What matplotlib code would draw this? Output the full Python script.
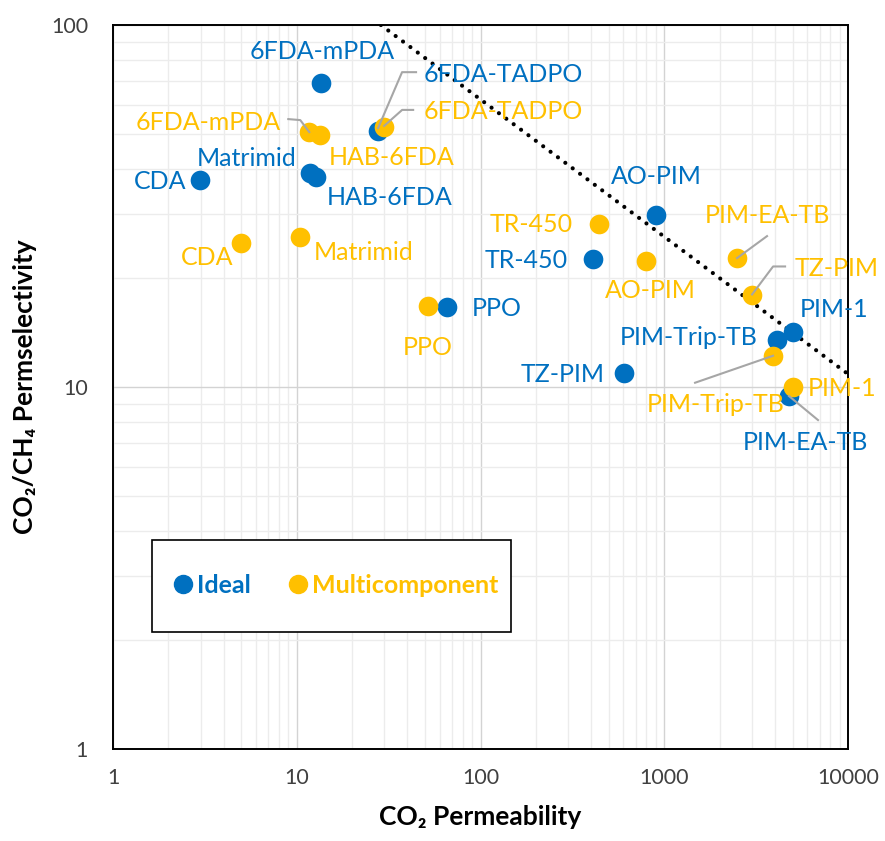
import numpy as np
import matplotlib
matplotlib.use("Agg")
import matplotlib.pyplot as plt
from matplotlib.patches import Rectangle
from matplotlib.lines import Line2D
from matplotlib.transforms import IdentityTransform

plt.rcParams['font.family'] = ['Lato', 'DejaVu Sans']

BLUE = '#0070C0'
GOLD = '#FFC000'
GREY = '#A6A6A6'

# ideal (pure gas) data
ideal_names = ['6FDA-mPDA', '6FDA-TADPO', 'CDA', 'Matrimid', 'HAB-6FDA', 'PPO',
               'TR-450', 'AO-PIM', 'TZ-PIM', 'PIM-1', 'PIM-Trip-TB', 'PIM-EA-TB']
ideal_perm = [13.5, 27.7, 2.98, 11.8, 12.7, 65.7, 409, 902, 604, 5020, 4110, 4775]
ideal_sel = [69.2, 50.9, 37.3, 39.0, 38.0, 16.6, 22.6, 29.9, 10.9, 14.2, 13.5, 9.44]

# multicomponent (mixed gas) data
mixed_names = ['6FDA-mPDA', 'HAB-6FDA', '6FDA-TADPO', 'CDA', 'Matrimid', 'PPO',
               'TR-450', 'AO-PIM', 'PIM-EA-TB', 'TZ-PIM', 'PIM-Trip-TB', 'PIM-1']
mixed_perm = [11.7, 13.4, 29.9, 4.97, 10.4, 51.8, 441, 796, 2489, 3006, 3910, 5020]
mixed_sel = [50.6, 49.7, 52.3, 25.0, 26.0, 16.7, 28.2, 22.3, 22.7, 17.9, 12.2, 10.0]

# 2008 upper bound end points
bound_perm = [28.7, 10000]
bound_sel = [100, 10.86]

# label placement: (dx, dy) in pixels from the point, alignment
ideal_lbl = [(1, 31, 'center'), (46, 57, 'left'), (-14, -1, 'right'), (-13, 15, 'right'),
             (11, -20, 'left'), (25, -1, 'left'), (-25, -2, 'right'), (0, 38, 'center'),
             (-19, -1, 'right'), (7, 22, 'left'), (-19, 2, 'right'), (16, -46, 'center')]
mixed_lbl = [(-29, 10, 'right'), (9, -23, 'left'), (39, 15, 'left'), (-8, -15, 'right'),
             (14, -16, 'left'), (0, -41, 'center'), (-26, 0, 'right'), (4, -30, 'center'),
             (-32, 43, 'left'), (43, 27, 'left'), (-57, -49, 'center'), (15, -1, 'left')]

# leader lines: series, index, vertex offsets in pixels
leaders = [
    ('ideal', 1, [(0, 3), (24, 59), (38, 59)]),
    ('mixed', 2, [(0, 1), (18, 17), (29, 17)]),
    ('mixed', 0, [(0, 0), (-9, 12), (-21, 13)]),
    ('mixed', 8, [(0, 0), (30, 22)]),
    ('mixed', 9, [(0, 1), (21, 29), (33, 29)]),
    ('mixed', 10, [(0, 0), (-78, -27)]),
    ('ideal', 11, [(0, 0), (29, -24)]),
]

fig = plt.figure(figsize=(8.85, 8.41), dpi=100)
ax = fig.add_axes([113 / 885, 92 / 841, 735 / 885, 724 / 841])
ax.set_xscale('log')
ax.set_yscale('log')
ax.set_xlim(1, 10000)
ax.set_ylim(1, 100)

ax.grid(True, which='major', color='#D3D3D3', lw=1.0, zorder=0)
ax.grid(True, which='minor', color='#ECECEC', lw=1.0, zorder=0)
ax.set_axisbelow(True)
for s in ax.spines.values():
    s.set_linewidth(1.4)
    s.set_color('black')

ax.set_xticks([1, 10, 100, 1000, 10000])
ax.set_xticklabels(['1', '10', '100', '1000', '10000'])
ax.set_yticks([1, 10, 100])
ax.set_yticklabels(['1', '10', '100'])
ax.tick_params(which='both', length=0, labelsize=15.5, labelcolor='#404040')
ax.tick_params(axis='x', pad=14)
ax.tick_params(axis='y', pad=18)

ax.plot(bound_perm, bound_sel, color='black', lw=3, ls=(0, (0.01, 2.2)),
        dash_capstyle='round', zorder=2)

ax.scatter(ideal_perm, ideal_sel, s=200, color=BLUE, zorder=3, linewidths=0)
ax.scatter(mixed_perm, mixed_sel, s=200, color=GOLD, zorder=4, linewidths=0)

for name, x, y, (dx, dy, ha) in zip(ideal_names, ideal_perm, ideal_sel, ideal_lbl):
    ax.annotate(name, (x, y), xytext=(dx, dy), textcoords='offset pixels',
                ha=ha, va='center', fontsize=18, color=BLUE, annotation_clip=False)
for name, x, y, (dx, dy, ha) in zip(mixed_names, mixed_perm, mixed_sel, mixed_lbl):
    ax.annotate(name, (x, y), xytext=(dx, dy), textcoords='offset pixels',
                ha=ha, va='center', fontsize=18, color=GOLD, annotation_clip=False)

series = {'ideal': (ideal_perm, ideal_sel), 'mixed': (mixed_perm, mixed_sel)}
for key, i, offs in leaders:
    px, py = series[key]
    base = ax.transData.transform((px[i], py[i]))
    pts = base + np.array(offs, dtype=float)
    ax.add_line(Line2D(pts[:, 0], pts[:, 1], transform=IdentityTransform(),
                       color=GREY, lw=1.5, zorder=5))

ax.set_xlabel('CO₂ Permeability', fontsize=19, fontweight='bold', labelpad=12)
ax.set_ylabel('CO₂/CH₄ Permselectivity', fontsize=19, fontweight='bold', labelpad=10)

# legend box
ax.add_patch(Rectangle((0.053, 0.162), 0.488, 0.127, transform=ax.transAxes,
                       fill=True, facecolor='white', edgecolor='black', lw=1.2, zorder=6))
handles = [Line2D([], [], marker='o', ls='', color=BLUE, markersize=13),
           Line2D([], [], marker='o', ls='', color=GOLD, markersize=13)]
leg = ax.legend(handles, ['Ideal', 'Multicomponent'], loc='center',
                bbox_to_anchor=(0.301, 0.2255), ncol=2, frameon=False,
                handletextpad=0.05, columnspacing=1.4, handlelength=1.0,
                prop={'size': 18, 'weight': 'bold'})
leg.set_zorder(7)
for t, c in zip(leg.get_texts(), [BLUE, GOLD]):
    t.set_color(c)

fig.savefig('out.png', dpi=100)
